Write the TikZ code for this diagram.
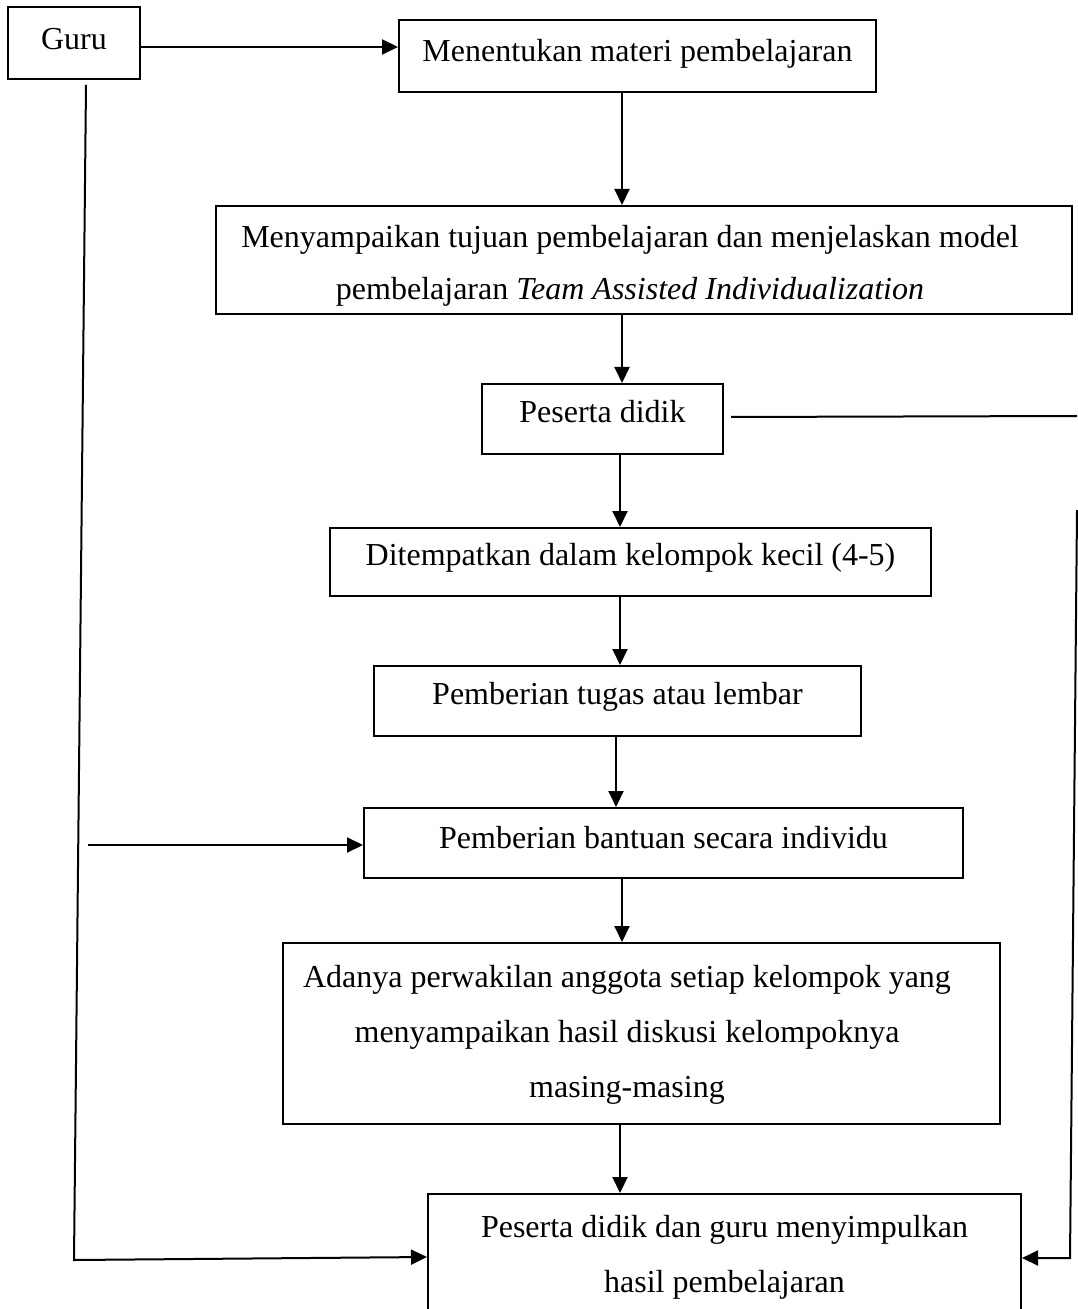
\documentclass[tikz,border=0pt]{standalone}
\usepackage{fontspec}
\setmainfont{Liberation Serif}
\usetikzlibrary{arrows.meta}
\begin{document}
\begin{tikzpicture}[x=0.5pt,y=-0.5pt,
  box/.style={draw,line width=1pt,inner sep=0pt},
  txt/.style={anchor=base,inner sep=0pt,font=\fontsize{16}{19}\selectfont},
  arr/.style={line width=1pt,-{Triangle[length=8pt,width=7.5pt]}},
  ln/.style={line width=1pt}]
\useasboundingbox (0,0) rectangle (1077,1309);
% boxes
\node[box,minimum width=66pt,minimum height=36pt] (g) at (74,43) {};
\node[box,minimum width=238.5pt,minimum height=36pt] (b1) at (637.5,56) {};
\node[box,minimum width=428pt,minimum height=54pt] (b2) at (644,260) {};
\node[box,minimum width=120.5pt,minimum height=35pt] (b3) at (602.5,419) {};
\node[box,minimum width=300.5pt,minimum height=34pt] (b4) at (630.5,562) {};
\node[box,minimum width=243.5pt,minimum height=35pt] (b5) at (617.5,701) {};
\node[box,minimum width=299.5pt,minimum height=35pt] (b6) at (663.5,843) {};
\node[box,minimum width=358.5pt,minimum height=90.5pt] (b7) at (641.5,1033.5) {};
\node[box,minimum width=296.5pt,minimum height=68pt] (b8) at (724.5,1262) {};
% texts
\node[txt] (tg) at (74,50) {Guru};
\node[txt] (t1) at (637.5,62) {Menentukan materi pembelajaran};
\node[txt] (t2a) at (630,248) {Menyampaikan tujuan pembelajaran dan menjelaskan model};
\node[txt] (t2b) at (630,300) {pembelajaran \textit{Team Assisted Individualization}};
\node[txt] (t3) at (602.5,423) {Peserta didik};
\node[txt] (t4) at (630.5,565) {Ditempatkan dalam kelompok kecil (4-5)};
\node[txt] (t5) at (617.5,704) {Pemberian tugas atau lembar};
\node[txt] (t6) at (663.5,848) {Pemberian bantuan secara individu};
\node[txt] (t7a) at (627,987) {Adanya perwakilan anggota setiap kelompok yang};
\node[txt] (t7b) at (627,1042) {menyampaikan hasil diskusi kelompoknya};
\node[txt] (t7c) at (627,1097) {masing-masing};
\node[txt] (t8a) at (724.5,1237) {Peserta didik dan guru menyimpulkan};
\node[txt] (t8b) at (724.5,1292) {hasil pembelajaran};
% vertical arrows
\coordinate (xa) at (622,0);
\coordinate (xb) at (620,0);
\coordinate (xc) at (616,0);
\draw[arr] (xa |- b1.south) -- (xa |- b2.north);
\draw[arr] (xa |- b2.south) -- (xa |- b3.north);
\draw[arr] (xb |- b3.south) -- (xb |- b4.north);
\draw[arr] (xb |- b4.south) -- (xb |- b5.north);
\draw[arr] (xc |- b5.south) -- (xc |- b6.north);
\draw[arr] (xa |- b6.south) -- (xa |- b7.north);
\draw[arr] (xb |- b7.south) -- (xb |- b8.north);
% Guru to first box
\coordinate (y1) at (0,47);
\draw[arr] (g.east |- y1) -- (b1.west |- y1);
% left loop
\coordinate (l0) at (86,85);
\coordinate (l1) at (74,1260);
\coordinate (y8) at (0,1257);
\draw[arr] (l0) -- (l1) -- (b8.west |- y8);
\coordinate (l2) at (88,845);
\draw[arr] (l2) -- (l2 -| b6.west);
% right loop
\coordinate (r0) at (731,417);
\coordinate (r1) at (1077,416);
\draw[ln] (r0) -- (r1);
\coordinate (r2) at (1077,510);
\coordinate (r3) at (1070,1258);
\draw[arr] (r2) -- (r3) -- (b8.east |- r3);
\end{tikzpicture}
\end{document}
